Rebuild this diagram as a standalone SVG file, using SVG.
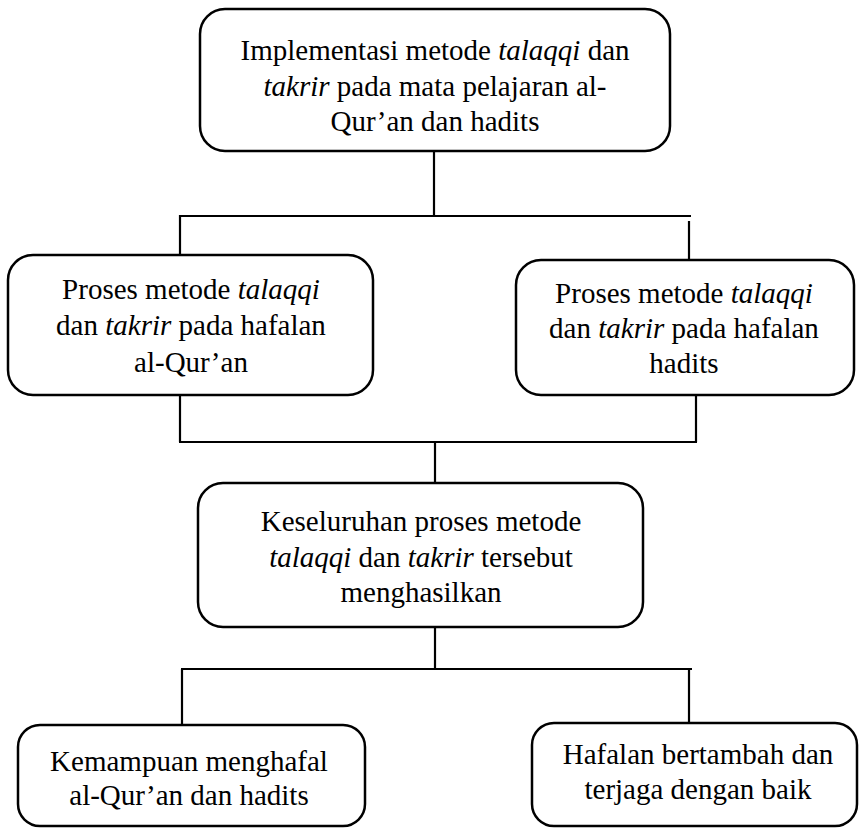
<svg xmlns="http://www.w3.org/2000/svg" width="860" height="828" viewBox="0 0 860 828">
<style>
.box{fill:#fff;stroke:#000;stroke-width:2.5}
.ln{stroke:#000;stroke-width:2.2;fill:none;stroke-linecap:butt}
</style>
<rect width="860" height="828" fill="#fff"/>
<g id="connectors">
<line class="ln" x1="434" y1="151" x2="434" y2="216"/>
<line class="ln" x1="179" y1="216" x2="691" y2="216"/>
<line class="ln" x1="180" y1="215" x2="180" y2="255"/>
<line class="ln" x1="689" y1="221" x2="689" y2="260"/>
<line class="ln" x1="180" y1="395" x2="180" y2="442"/>
<line class="ln" x1="696" y1="395" x2="696" y2="442"/>
<line class="ln" x1="179" y1="442" x2="697" y2="442"/>
<line class="ln" x1="435" y1="442" x2="435" y2="483"/>
<line class="ln" x1="435" y1="627" x2="435" y2="669"/>
<line class="ln" x1="181" y1="669" x2="692" y2="669"/>
<line class="ln" x1="182" y1="669" x2="182" y2="725"/>
<line class="ln" x1="689" y1="669" x2="689" y2="723"/>
</g>
<g font-family="Liberation Serif" font-size="29" text-anchor="middle" fill="#000">
<g id="node-top">
<rect class="box" x="200" y="9" width="470" height="142" rx="25"/>
<text x="435" y="60">Implementasi metode <tspan font-family="Liberation Serif" font-style="italic">talaqqi</tspan> dan</text>
<text x="435" y="96"><tspan font-family="Liberation Serif" font-style="italic">takrir</tspan> pada mata pelajaran al-</text>
<text x="435" y="131">Qur’an dan hadits</text>
</g>
<g id="node-quran">
<rect class="box" x="8" y="255" width="365" height="140" rx="25"/>
<text x="191" y="299">Proses metode <tspan font-family="Liberation Serif" font-style="italic">talaqqi</tspan></text>
<text x="191" y="335">dan <tspan font-family="Liberation Serif" font-style="italic">takrir</tspan> pada hafalan</text>
<text x="191" y="372">al-Qur’an</text>
</g>
<g id="node-hadits">
<rect class="box" x="516" y="260" width="338" height="135" rx="25"/>
<text x="684" y="303">Proses metode <tspan font-family="Liberation Serif" font-style="italic">talaqqi</tspan></text>
<text x="684" y="338">dan <tspan font-family="Liberation Serif" font-style="italic">takrir</tspan> pada hafalan</text>
<text x="684" y="373">hadits</text>
</g>
<g id="node-keseluruhan">
<rect class="box" x="198" y="483" width="445" height="144" rx="25"/>
<text x="421" y="531">Keseluruhan proses metode</text>
<text x="421" y="567"><tspan font-family="Liberation Serif" font-style="italic">talaqqi</tspan> dan <tspan font-family="Liberation Serif" font-style="italic">takrir</tspan> tersebut</text>
<text x="421" y="602">menghasilkan</text>
</g>
<g id="node-kemampuan">
<rect class="box" x="18" y="725" width="347" height="101" rx="22"/>
<text x="189" y="771">Kemampuan menghafal</text>
<text x="189" y="805">al-Qur’an dan hadits</text>
</g>
<g id="node-hafalan">
<rect class="box" x="532" y="723" width="325" height="103" rx="22"/>
<text x="698" y="764">Hafalan bertambah dan</text>
<text x="698" y="799">terjaga dengan baik</text>
</g>
</g>
</svg>
